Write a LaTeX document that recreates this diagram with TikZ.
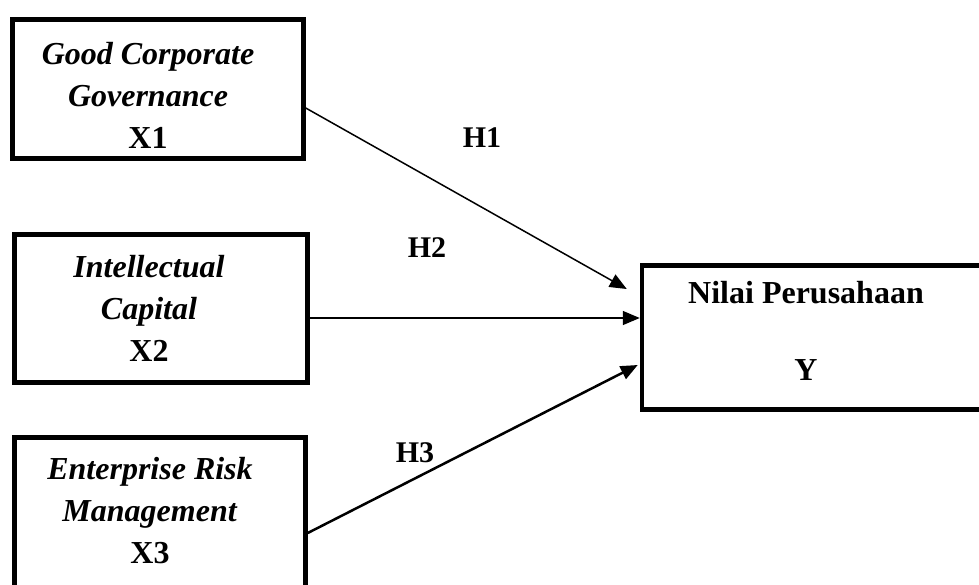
\documentclass[tikz,border=0pt]{standalone}
\usepackage{fontspec}
\setmainfont{Liberation Serif}
\usetikzlibrary{arrows.meta, calc, positioning}

\tikzset{
  varbox/.style={draw, line width=4.5pt, inner sep=0pt},
  vartext/.style={align=center, font=\fontsize{32pt}{42pt}\selectfont\bfseries},
  hyplabel/.style={font=\fontsize{30pt}{36pt}\selectfont\bfseries}
}

\begin{document}
\begin{tikzpicture}[x=1pt, y=-1pt, >={Triangle[length=17pt,width=14pt]}]
  \useasboundingbox (0,0) rectangle (979,584);
  \clip (0,0) rectangle (979,584);

  % boxes
  \node[varbox, minimum width=291pt, minimum height=139pt] (gcg) at (158,89) {};
  \node[varbox, minimum width=293pt, minimum height=148pt] (ic) at (161,308.5) {};
  \node[varbox, minimum width=291pt, minimum height=162pt] (erm) at (160,518.5) {};
  \node[varbox, minimum width=358pt, minimum height=144pt] (nilai) at (821,337.5) {};

  % texts
  \node[vartext] (gcgtxt) at (148,95) {\textit{Good Corporate}\\ \textit{Governance}\\ X1};
  \node[vartext] (ictxt) at (149,308) {\textit{Intellectual}\\ \textit{Capital}\\ X2};
  \node[vartext] (ermtxt) at (150,511) {\textit{Enterprise Risk}\\ \textit{Management}\\ X3};
  \node[vartext] (nilaitxt) at (806,331) {Nilai Perusahaan\\[35pt] Y};

  % arrows
  \draw[->, line width=1.5pt] ($(gcg.east)+(0,19)$) -- ($(nilai.west)+(-13,-48.5)$);
  \draw[->, line width=1.5pt] ($(ic.east)+(0,9.5)$) -- ($(nilai.west)+(0,-19.5)$);
  \draw[->, line width=2.5pt] ($(erm.east)+(0,14.5)$) -- ($(nilai.west)+(-2,27.5)$);

  % hypotheses
  \node[hyplabel] (h1) at (482,138) {H1};
  \node[hyplabel] (h2) at (427,248) {H2};
  \node[hyplabel] (h3) at (415,453) {H3};
\end{tikzpicture}
\end{document}
